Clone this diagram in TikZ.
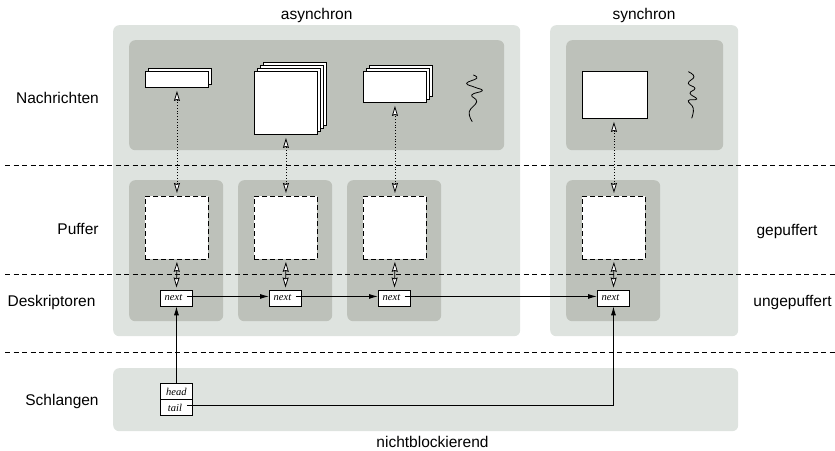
\documentclass[tikz,border=0pt]{standalone}
\usepackage{fontspec}
\setmainfont{Liberation Sans}
\newfontfamily\boxfont{Liberation Serif}
\usetikzlibrary{arrows.meta}
\definecolor{paleback}{HTML}{DEE3DF}
\definecolor{darkback}{HTML}{BDC1BA}
\tikzset{
	palepanel/.style={fill=paleback, rounded corners=6pt, anchor=north west, inner sep=0pt},
	darkpanel/.style={fill=darkback, rounded corners=6pt, anchor=north west, inner sep=0pt},
	msgbox/.style={draw, fill=white, line width=0.9pt, anchor=north west, inner sep=0pt},
	bufbox/.style={draw, fill=white, line width=0.9pt, dash pattern=on 5pt off 3pt, anchor=north west, inner sep=0pt, minimum width=63, minimum height=63},
	listbox/.style={draw, fill=white, line width=0.9pt, anchor=north west, minimum width=32, minimum height=16, inner sep=0pt, font=\boxfont\itshape\fontsize{10.5}{12}\selectfont},
	lab/.style={inner sep=0pt, font=\fontsize{15.5}{18}\selectfont},
	levelline/.style={line width=0.7pt, dash pattern=on 5pt off 3.5pt},
	opentip/.style={{Stealth[fill=white, length=10pt, width=6pt, inset=1pt]}-{Stealth[fill=white, length=10pt, width=6pt, inset=1pt]}, line width=0.8pt, shorten <=3pt, shorten >=3pt},
	squiggle/.style={line width=0.8pt, smooth, tension=0.8},
	solidtip/.style={-{Latex[length=9pt, width=5pt]}, line width=0.9pt}
}
\begin{document}
\begin{tikzpicture}[x=1pt, y=-1pt]
	\useasboundingbox (0,0) rectangle (835,450);
	% background panels
	\node [palepanel, minimum width=407, minimum height=311] (asyncpanel) at (113,25) {};
	\node [palepanel, minimum width=188, minimum height=311] (syncpanel) at (550,25) {};
	\node [palepanel, minimum width=625, minimum height=63] (queuepanel) at (113,368) {};
	\node [darkpanel, minimum width=375, minimum height=110] (asyncmsg) at (129,40) {};
	\node [darkpanel, minimum width=157, minimum height=110] (syncmsg) at (566,40) {};
	\foreach \x/\n in {129/a, 238/b, 347/c, 566/d}
		\node [darkpanel, minimum width=94, minimum height=141] (panel\n) at (\x,180) {};
	% levels
	\foreach \y/\n in {165/one, 274.5/two, 352/three} {
		\coordinate (left\n) at (5,\y);
		\coordinate (right\n) at (835,\y);
		\draw [levelline] (left\n) -- (right\n);
	}
	% messages
	\foreach \o in {3,0}
		\node [msgbox, minimum width=63, minimum height=16] (msga\o) at (145+\o,71-\o) {};
	\foreach \o in {9,6,3,0}
		\node [msgbox, minimum width=63, minimum height=63] (msgb\o) at (254+\o,71-\o) {};
	\foreach \o in {6,3,0}
		\node [msgbox, minimum width=63, minimum height=31] (msgc\o) at (363+\o,71-\o) {};
	\node [msgbox, minimum width=65, minimum height=47] (msgd0) at (582,71) {};
	\draw [squiggle] plot coordinates {(473.3,75) (476.7,78.3) (466.7,83.3) (475,87.3) (482.3,90.7) (471.7,95) (476.7,101.7) (469.3,111.7) (472.3,121.7)};
	\draw [squiggle] plot coordinates {(688.3,71.7) (694,76.7) (688.3,83.3) (695,88.3) (690,93.3) (696.7,99) (688.3,100.7) (693.3,108.3) (691.7,118.3)};
	% buffers and descriptors
	\foreach \x/\n in {145/a, 254/b, 363/c, 582/d} {
		\node [bufbox] (buf\n) at (\x,196) {};
		\node [listbox] (next\n) at (\x+15,289.5) {next\hspace*{6pt}};
		\draw [opentip, dotted] (buf\n.north) -- (buf\n.north |- msg\n0.south);
		\draw [opentip, shorten <=2pt, shorten >=2pt] (buf\n.south) -- (next\n.north);
	}
	% the list
	\node [listbox] (head) at (160,383) {head};
	\node [listbox] (tail) at (160,399) {tail\hspace*{3pt}};
	\foreach \a/\b in {a/b, b/c, c/d} {
		\coordinate (start\a) at ([xshift=-6pt, yshift=1.5pt]next\a.east);
		\coordinate (end\a) at ([yshift=1.5pt]next\b.west);
		\draw [solidtip] (start\a) -- (end\a);
	}
	\coordinate (starttail) at ([xshift=-6pt, yshift=2pt]tail.east);
	\draw [solidtip] (head.north) -- (nexta.south);
	\draw [solidtip] (starttail) -| (nextd.south);
	% labels
	\node [lab] (asynchron) at (316.7,15.3) {asynchron};
	\node [lab] (synchron) at (644,15.3) {synchron};
	\node [lab] (nachrichten) at (57.5,97.5) {Nachrichten};
	\node [lab] (puffer) at (78,228.5) {Puffer};
	\node [lab] (deskriptoren) at (51.5,302) {Deskriptoren};
	\node [lab] (schlangen) at (62,401) {Schlangen};
	\node [lab] (gepuffert) at (787,231) {gepuffert};
	\node [lab] (ungepuffert) at (792.5,302) {ungepuffert};
	\node [lab] (nichtblockierend) at (432.5,441.5) {nichtblockierend};
\end{tikzpicture}
\end{document}
